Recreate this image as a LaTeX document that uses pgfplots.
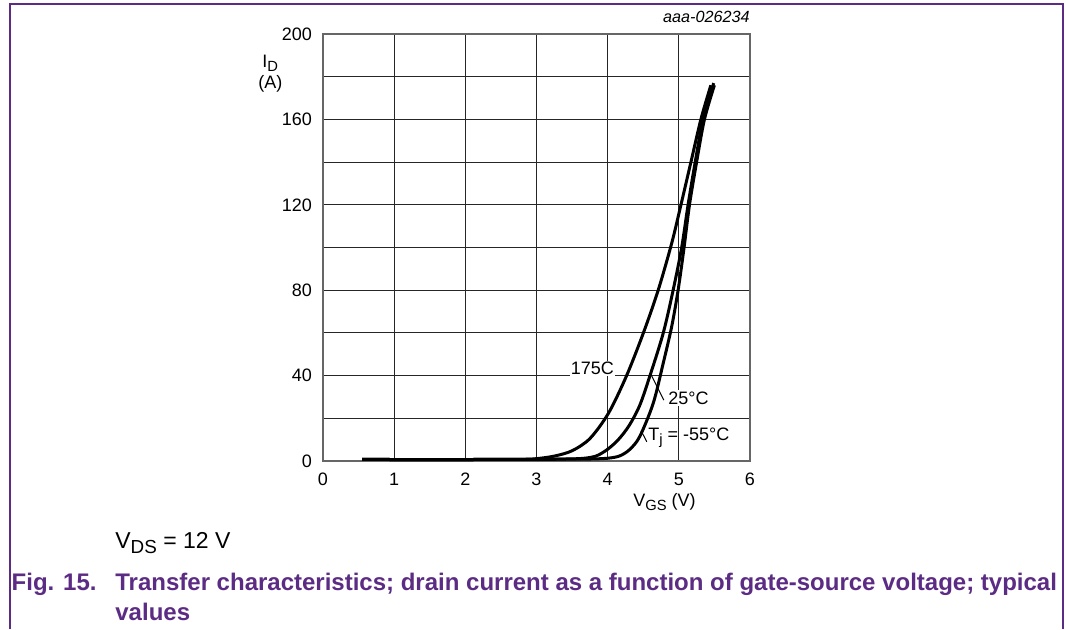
\documentclass[border=0pt]{standalone}
\usepackage{fontspec}
\setmainfont{Liberation Sans}
\usepackage{pgfplots}
\pgfplotsset{compat=1.18}
\definecolor{nxppurple}{RGB}{92,44,132}
\newcommand{\tickfont}{\fontsize{9}{11}\selectfont}
\newcommand{\sub}[1]{\raisebox{-0.45ex}{\scalebox{0.82}{#1}}}

\begin{document}
\begin{tikzpicture}
\useasboundingbox (-161.5pt,-84pt) rectangle (371.5pt,230.5pt);
% frame
\draw[nxppurple, line width=0.8pt] (-156.5pt,-84pt) -- (-156.5pt,228.5pt) -- (370pt,228.5pt) -- (370pt,-84pt);

\begin{axis}[
    scale only axis,
    width=213.5pt, height=213.5pt,
    xmin=0, xmax=6, ymin=0, ymax=200,
    xtick={0,1,...,6},
    ytick={0,40,...,200},
    minor ytick={20,60,...,180},
    grid=both,
    grid style={black!85, line width=0.55pt},
    minor grid style={black!85, line width=0.55pt},
    major tick length=0pt, minor tick length=0pt,
    axis line style={black!60, line width=0.6pt},
    ticklabel style={font=\tickfont},
    /pgf/number format/assume math mode=true,
    xticklabel style={yshift=-2.5pt},
    yticklabel style={xshift=-2pt},
    clip=false,
]
% Tj = 175 C
\addplot[black, line width=1.5pt, smooth] coordinates {
 (0.55,0.8) (1,0.7) (2,0.7) (2.8,0.8) (3.0,1.1) (3.25,2.3) (3.5,4.8)
 (3.75,10.5) (4.01,22.3) (4.26,39.5) (4.5,59.8) (4.71,80) (4.9,102)
 (5.03,120) (5.17,140) (5.31,160) (5.45,176)
};
% Tj = 25 C
\addplot[black, line width=1.5pt, smooth] coordinates {
 (0.55,0.8) (1,0.7) (2,0.7) (3,0.8) (3.5,1.0) (3.7,1.4) (3.85,2.5)
 (4.0,5.5) (4.15,10) (4.3,16.5) (4.45,26) (4.59,39.5) (4.78,59.8)
 (4.92,80) (5.04,100) (5.13,120) (5.23,140) (5.34,160) (5.49,177)
};
% Tj = -55 C
\addplot[black, line width=1.5pt, smooth] coordinates {
 (0.55,0.8) (1,0.7) (2,0.7) (3,0.8) (3.7,0.9) (4.0,1.3) (4.17,2.4)
 (4.31,5.4) (4.45,11.4) (4.64,27) (4.78,45.7) (4.9,63) (4.99,80)
 (5.07,99) (5.15,120) (5.25,140) (5.36,160) (5.5,176)
};
% curve labels
\node[font=\tickfont, fill=white, inner sep=0.6pt, anchor=base west] at (axis cs:3.46,40.6) {175C};
\draw[black, line width=0.5pt] (axis cs:4.61,40.5) -- (axis cs:4.79,28.5);
\node[font=\tickfont, fill=white, inner sep=0.6pt, anchor=west] at (axis cs:4.83,29.5) {25°C};
\draw[black, line width=0.5pt] (axis cs:4.47,14.2) -- (axis cs:4.55,9);
\node[font=\tickfont, inner sep=0.6pt, anchor=west] at (axis cs:4.55,10.8) {T\sub{j} = -55°C};
\end{axis}

% axis titles and notes
\node[font=\tickfont, anchor=base west, inner sep=0pt] at (-30.5pt,197pt) {I\sub{D}};
\node[font=\tickfont, anchor=base west, inner sep=0pt] at (-32.5pt,186.5pt) {(A)};
\node[font=\tickfont, anchor=base west, inner sep=0pt] at (155pt,-22.5pt) {V\sub{GS} (V)};
\node[font=\fontsize{8.1}{10}\selectfont\itshape, anchor=east, inner sep=0pt] at (213.5pt,222pt) {aaa-026234};
\node[font=\fontsize{11.5}{14}\selectfont, anchor=base west, inner sep=0pt] at (-104pt,-43.5pt) {V\sub{DS} = 12 V};
\node[font=\fontsize{12}{15}\selectfont\bfseries, text=nxppurple, anchor=base east, inner sep=0pt] at (-113pt,-64.5pt) {Fig. 15.};
\node[font=\fontsize{12}{15}\selectfont\bfseries, text=nxppurple, anchor=base west, inner sep=0pt] at (-104pt,-64.5pt) {Transfer characteristics; drain current as a function of gate-source voltage; typical};
\node[font=\fontsize{12}{15}\selectfont\bfseries, text=nxppurple, anchor=base west, inner sep=0pt] at (-104pt,-79.5pt) {values};
\end{tikzpicture}
\end{document}
